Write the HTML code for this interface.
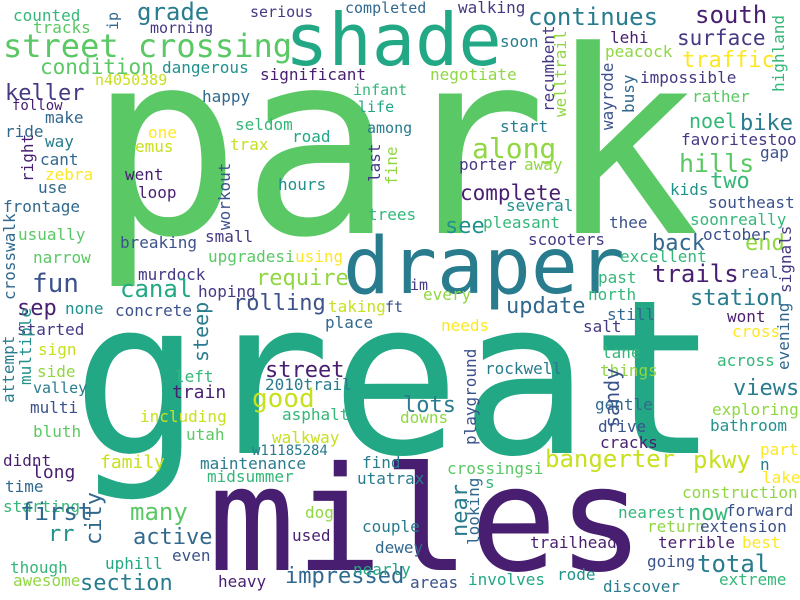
<!DOCTYPE html>
<html><head><meta charset="utf-8"><style>
html,body{margin:0;padding:0;background:#fff}
svg{display:block}
text{font-family:"DejaVu Sans Mono","Liberation Mono",monospace}
</style></head><body>
<svg id="cloud" width="800" height="600" viewBox="0 0 800 600" xmlns="http://www.w3.org/2000/svg">
<rect width="800" height="600" fill="#fff"/>
</svg>
<script>
const P={dp:'#481f70',pu:'#443983',bl:'#3b528b',bt:'#31688e',te:'#287c8e',tg:'#21918c',gt:'#22a884',gr:'#35b779',lg:'#5ac864',yg:'#90d743',yl:'#c8e020',ye:'#fde725',gg:'#2bb07f'};
const words=["park","great","miles","shade","draper","street crossing","counted","grade","ip","serious","completed","tracks","morning","condition","dangerous","significant","n4050389","keller","happy","follow","infant","life","among","make","seldom","ride","one","road","way","emus","trax","right","last","cant","zebra","went","hours","use","loop","workout","frontage","usually","breaking","small","upgradesi","using","narrow","crosswalk","murdock","hoping","fun","canal","require","trees","fine","walking","continues","south","surface","traffic","soon","recumbent","welltrail","lehi","peacock","highland","wayrode","busy","impossible","negotiate","rather","start","noel","bike","favoritestoo","along","hills","gap","porter","away","complete","two","kids","southeast","several","see","pleasant","thee","soonreally","back","end","october","signals","scooters","excellent","trails","real","past","im","every","north","station","sep","none","concrete","steep","rolling","taking","ft","place","started","sign","attempt","multiple","street","side","left","valley","2010trail","train","good","multi","including","asphalt","bluth","utah","walkway","w11185284","didnt","family","long","maintenance","midsummer","find","time","starting","many","first","city","dog","rr","active","used","uphill","even","though","awesome","section","heavy","impressed","couple","dewey","nearly","utatrax","update","still","wont","needs","salt","cross","evening","lane","rockwell","things","across","playground","sandy","views","lots","gentle","exploring","downs","drive","bathroom","cracks","part","bangerter","pkwy","crossingsi","n","lake","s","construction","near","looking","nearest","now","forward","return","extension","trailhead","terrible","best","going","total","areas","involves","rode","extreme","discover"];
const weights=[255,215,145,72,78,32,16,24,15,15,15,16,15,21,16,16,15,22,16,14,15,15,15,16,16,16,16,16,16,16,16,16,16,16,16,16,16,16,16,16,16,16,16,16,16,16,16,16,16,16,26,24,22,16,16,16,24,24,21,22,16,16,16,16,16,16,16,16,16,16,16,16,20,22,16,28,25,16,16,16,21,22,16,16,16,22,16,16,16,22,22,16,16,16,16,24,16,16,15,16,16,22,22,16,16,20,22,16,15,16,16,16,16,16,22,16,16,15,16,18,26,16,16,16,16,16,16,14,16,18,18,16,16,16,16,16,24,24,22,16,22,22,16,16,16,16,16,22,16,22,16,16,16,16,22,16,16,16,16,16,16,16,16,16,16,16,20,22,22,16,16,16,16,16,16,16,24,24,16,16,16,16,16,22,16,16,22,16,16,16,16,16,16,16,24,16,16,16,16,16];
const layout=[
[88,233,'lg',0,612],[72,453,'gt',0],[208,570,'dp',0],[285,65,'gt',0],[343,293,'te',0],[3,57,'lg',0],[13,21,'gr',0],[137,20,'te',0],[118,30,'bt',1],[250,17,'pu',0],[345,13,'bt',0],[33,33,'lg',0],[150,33,'pu',0],[40,74,'lg',0],[162,73,'tg',0],[260,80,'dp',0],[95,85,'yl',0],[5,100,'pu',0],[202,102,'bt',0],[12,110,'dp',0],[353,95,'gr',0],[358,112,'gt',0],[367,133,'te',0],[45,123,'bt',0],[235,130,'gr',0],[5,137,'bt',0],[148,138,'ye',0],[292,142,'gt',0],[45,147,'te',0],[135,152,'yl',0],[230,150,'yl',0],[33,182,'dp',1],[380,182,'pu',1],[40,165,'bt',0],[45,180,'ye',0],[125,180,'dp',0],[278,190,'tg',0],[38,193,'bt',0],[138,198,'dp',0],[230,230,'bl',1],[3,212,'bt',0],[18,240,'lg',0],[120,248,'bl',0],[205,242,'pu',0],[208,262,'lg',0],[295,262,'ye',0],[33,263,'lg',0],[15,300,'bt',1],[138,280,'pu',0],[198,297,'pu',0],[32,292,'bl',0],[120,297,'gt',0],[256,285,'yg',0],[368,220,'gr',0],[397,185,'yg',1],[458,13,'pu',0],[528,25,'te',0],[695,23,'dp',0],[677,45,'pu',0],[682,67,'ye',0],[500,47,'te',0],[554,112,'pu',1],[566,117,'yg',1],[610,43,'dp',0],[605,57,'yg',0],[784,92,'gr',1],[613,130,'bl',1],[634,113,'bt',1],[640,83,'pu',0],[430,80,'yg',0],[692,102,'lg',0],[500,132,'te',0],[689,128,'gr',0],[740,130,'te',0],[681,145,'pu',0],[472,158,'yg',0],[679,172,'lg',0],[760,158,'bl',0],[459,170,'pu',0],[524,170,'yg',0],[460,200,'dp',0],[710,188,'gr',0],[670,195,'tg',0],[708,208,'bl',0],[506,211,'tg',0],[445,233,'tg',0],[483,228,'gr',0],[609,228,'bl',0],[690,225,'gr',0],[652,250,'bt',0],[745,250,'yg',0],[703,240,'bl',0],[791,293,'pu',1],[528,245,'pu',0],[620,262,'gr',0],[652,282,'dp',0],[740,278,'bl',0],[598,283,'gr',0],[410,290,'pu',0],[423,300,'yg',0],[588,300,'gr',0],[690,305,'te',0],
[17,315,'dp',0],[65,314,'tg',0],[115,316,'bl',0],[208,362,'te',1],[233,310,'bl',0],[328,312,'yl',0],[385,312,'bl',0],[325,328,'bt',0],[17,335,'pu',0],[38,355,'yl',0],[14,403,'te',1],[31,385,'tg',1],[265,377,'dp',0],[37,377,'yg',0],[175,382,'gr',0],[33,393,'te',0],[265,390,'te',0],[172,398,'dp',0],[252,407,'yl',0],[30,413,'bl',0],[140,422,'yl',0],[282,420,'gr',0],[33,437,'lg',0],[186,440,'lg',0],[272,443,'yl',0],[252,455,'te',0],[3,466,'dp',0],[100,468,'yl',0],[32,478,'dp',0],[200,469,'te',0],[207,482,'gr',0],[362,468,'te',0],[5,492,'bt',0],[3,512,'gr',0],[130,520,'lg',0],[20,520,'bt',0],[101,545,'bt',1],[305,518,'yg',0],[48,541,'tg',0],[133,544,'bt',0],[292,541,'dp',0],[105,569,'gt',0],[172,561,'bl',0],[10,573,'gr',0],[13,586,'yg',0],[80,590,'te',0],[218,587,'dp',0],[285,583,'bt',0],[362,532,'te',0],[375,553,'bt',0],[353,575,'gt',0],[357,484,'te',0],
[506,313,'bt',0],[607,320,'bt',0],[727,322,'dp',0],[441,331,'ye',0],[583,332,'pu',0],[732,337,'ye',0],[789,370,'bt',1],[602,358,'gr',0],[485,374,'te',0],[600,376,'yg',0],[717,366,'gr',0],[476,445,'bl',1],[619,428,'bl',1],[733,395,'te',0],[403,412,'te',0],[595,410,'bt',0],[712,415,'yg',0],[400,423,'yg',0],[598,432,'bl',0],[710,431,'tg',0],[600,448,'dp',0],[760,455,'ye',0],[545,467,'yl',0],[693,468,'yl',0],[447,474,'lg',0],[760,470,'te',0],[762,483,'ye',0],[485,488,'gr',0],[682,498,'yg',0],[467,537,'te',1],[479,545,'bt',1],[618,518,'gr',0],[688,520,'gr',0],[726,516,'bl',0],[647,532,'yg',0],[700,532,'bl',0],[530,548,'dp',0],[658,548,'dp',0],[742,548,'ye',0],[647,567,'bl',0],[697,572,'te',0],[410,588,'bl',0],[468,585,'gt',0],[557,580,'tg',0],[719,585,'gr',0],[603,592,'te',0]];
const svg=document.getElementById('cloud');
const NS='http://www.w3.org/2000/svg';
words.forEach((w,i)=>{
  const L=layout[i]; if(!L) return;
  const t=document.createElementNS(NS,'text');
  t.setAttribute('x',L[0]);t.setAttribute('y',L[1]);
  t.setAttribute('font-size',weights[i]);
  t.setAttribute('fill',P[L[2]]);
  if(L[4]){t.setAttribute('textLength',L[4]);t.setAttribute('lengthAdjust','spacingAndGlyphs');}
  if(L[3]) t.setAttribute('transform','rotate(-90 '+L[0]+' '+L[1]+')');
  
  
  t.textContent=w;
  svg.appendChild(t);
});
</script>
</body></html>
